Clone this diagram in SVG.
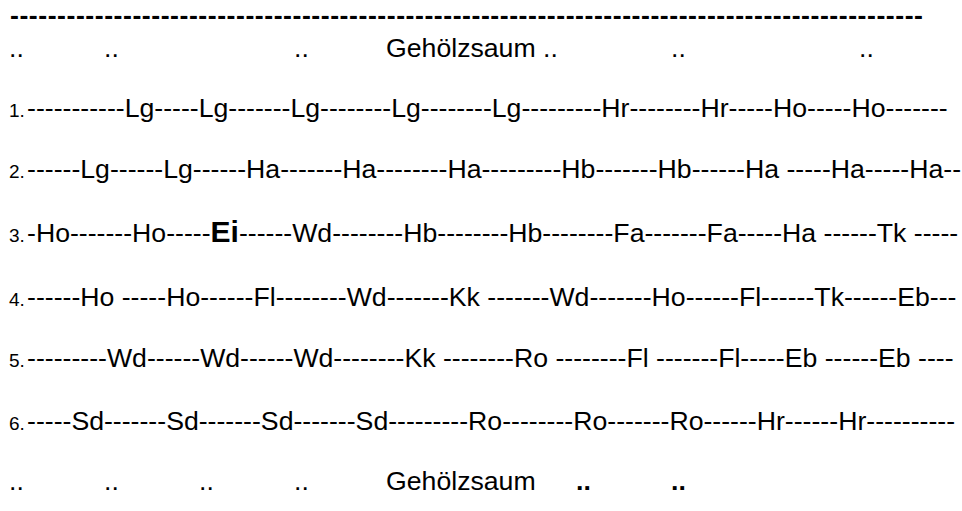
<svg xmlns="http://www.w3.org/2000/svg" width="962" height="511" viewBox="0 0 962 511">
<style>
text{font-family:"Liberation Sans",Arial,sans-serif;font-size:26.67px;fill:#000;white-space:pre}
.n{font-size:19px}
.b{font-weight:bold}
</style>
<rect width="962" height="511" fill="#fff"/>
<g id="top-border">
<text class="b" x="10" y="24" textLength="913" lengthAdjust="spacing">-------------------------------------------------------------------------------------------------</text>
</g>
<g id="top-label">
<text x="9" y="57">..</text>
<text x="104" y="57">..</text>
<text x="294" y="57">..</text>
<text x="386" y="57">Gehölzsaum ..</text>
<text x="671" y="57">..</text>
<text x="859" y="57">..</text>
</g>
<g id="row1"><text class="n" x="9" y="117">1.</text><text x="27" y="117">-----------Lg-----Lg-------Lg--------Lg--------Lg---------Hr--------Hr-----Ho-----Ho-------</text></g>
<g id="row2"><text class="n" x="9" y="178">2.</text><text x="27" y="178">------Lg------Lg------Ha-------Ha--------Ha---------Hb-------Hb------Ha -----Ha-----Ha--</text></g>
<g id="row3"><text class="n" x="9" y="242">3.</text><text x="27" y="242">-Ho-------Ho-----<tspan class="b" font-size="30">Ei</tspan>------Wd--------Hb--------Hb--------Fa-------Fa-----Ha ------Tk -----</text></g>
<g id="row4"><text class="n" x="9" y="306">4.</text><text x="27" y="306">------Ho -----Ho------Fl--------Wd-------Kk -------Wd-------Ho------Fl------Tk------Eb---</text></g>
<g id="row5"><text class="n" x="9" y="367">5.</text><text x="27" y="367">---------Wd------Wd------Wd--------Kk --------Ro --------Fl -------Fl-----Eb ------Eb ----</text></g>
<g id="row6"><text class="n" x="9" y="430">6.</text><text x="27" y="430">-----Sd-------Sd-------Sd-------Sd---------Ro--------Ro-------Ro------Hr------Hr----------</text></g>
<g id="bottom-label">
<text x="9" y="490">..</text>
<text x="104" y="490">..</text>
<text x="199" y="490">..</text>
<text x="294" y="490">..</text>
<text x="386" y="490">Gehölzsaum</text>
<text class="b" x="576" y="490">..</text>
<text class="b" x="671" y="490">..</text>
</g>
</svg>
